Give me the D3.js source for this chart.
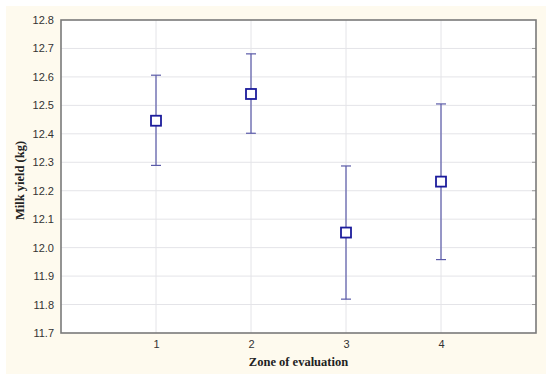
<!DOCTYPE html>
<html><head><meta charset="utf-8">
<script src="https://cdn.jsdelivr.net/npm/d3@7"></script>
<style>body{margin:0;background:#fff}svg{display:block}</style>
</head><body>
<script>
const zones = [1, 2, 3, 4];
const means = [12.446, 12.540, 12.053, 12.232];
const upper = [12.606, 12.681, 12.287, 12.505];
const lower = [12.289, 12.402, 11.819, 11.958];
const yTicks = [11.7, 11.8, 11.9, 12.0, 12.1, 12.2, 12.3, 12.4, 12.5, 12.6, 12.7, 12.8];

const W = 550, H = 380;
const svg = d3.select("body").append("svg").attr("width", W).attr("height", H);
svg.append("rect").attr("x", 6).attr("y", 6).attr("width", 540).attr("height", 368).attr("fill", "#fefaee");

const L = 61, R = 536, T = 20, B = 333;
const x = d3.scaleLinear().domain([0, 5]).range([L, R]);
const y = d3.scaleLinear().domain([11.7, 12.8]).range([B, T]);

svg.append("rect").attr("x", L).attr("y", T).attr("width", R - L).attr("height", B - T).attr("fill", "#fff");

// grid
const g = svg.append("g");
g.selectAll(".hg").data(yTicks.slice(1, -1)).join("line")
  .attr("x1", L).attr("x2", R).attr("y1", d => y(d)).attr("y2", d => y(d))
  .attr("stroke", "#e4e4e8").attr("stroke-width", 1);
g.selectAll(".vg").data(zones).join("line")
  .attr("y1", T).attr("y2", B).attr("x1", d => x(d)).attr("x2", d => x(d))
  .attr("stroke", "#e4e4e8").attr("stroke-width", 1);

// axes
const yAxis = d3.axisLeft(y).tickValues(yTicks).tickFormat(d3.format(".1f")).tickSize(0).tickPadding(7);
const ya = svg.append("g").attr("transform", `translate(${L},0)`).call(yAxis);
const xAxis = d3.axisBottom(x).tickValues(zones).tickFormat(d3.format("d")).tickSize(0).tickPadding(7);
const xa = svg.append("g").attr("transform", `translate(0,${B})`).call(xAxis);
[ya, xa].forEach(a => {
  a.select(".domain").remove();
  a.selectAll("text").attr("font-family", "Liberation Sans, Arial, sans-serif").attr("font-size", 11).attr("fill", "#333");
});

// right-edge inner ticks
svg.selectAll(".rt").data(yTicks.slice(1, -1)).join("line")
  .attr("x1", R - 4).attr("x2", R).attr("y1", d => y(d)).attr("y2", d => y(d))
  .attr("stroke", "#999").attr("stroke-width", 1);

// frame
svg.append("rect").attr("x", L).attr("y", T).attr("width", R - L).attr("height", B - T)
  .attr("fill", "none").attr("stroke", "#7a7a7a").attr("stroke-width", 1.6);

// error bars
const data = zones.map((z, i) => ({z, m: means[i], u: upper[i], l: lower[i]}));
const eb = svg.append("g").attr("stroke", "#5a5aa8").attr("stroke-width", 1.2);
eb.selectAll(".v").data(data).join("line")
  .attr("x1", d => x(d.z)).attr("x2", d => x(d.z)).attr("y1", d => y(d.u)).attr("y2", d => y(d.l));
eb.selectAll(".cu").data(data).join("line")
  .attr("x1", d => x(d.z) - 5).attr("x2", d => x(d.z) + 5).attr("y1", d => y(d.u)).attr("y2", d => y(d.u));
eb.selectAll(".cl").data(data).join("line")
  .attr("x1", d => x(d.z) - 5).attr("x2", d => x(d.z) + 5).attr("y1", d => y(d.l)).attr("y2", d => y(d.l));

// squares
svg.selectAll(".sq").data(data).join("rect")
  .attr("x", d => x(d.z) - 5).attr("y", d => y(d.m) - 5).attr("width", 10).attr("height", 10)
  .attr("fill", "#fff").attr("stroke", "#1c1c9c").attr("stroke-width", 1.8);

// titles
svg.append("text").attr("x", (L + R) / 2).attr("y", 366).attr("text-anchor", "middle")
  .attr("font-family", "Liberation Serif, Times New Roman, serif").attr("font-weight", "bold")
  .attr("font-size", 12.5).attr("fill", "#222").text("Zone of evaluation");
svg.append("text").attr("transform", `translate(24,${(T + B) / 2 + 4}) rotate(-90)`).attr("text-anchor", "middle")
  .attr("font-family", "Liberation Serif, Times New Roman, serif").attr("font-weight", "bold")
  .attr("font-size", 12.5).attr("fill", "#222").text("Milk yield (kg)");
</script>
</body></html>
